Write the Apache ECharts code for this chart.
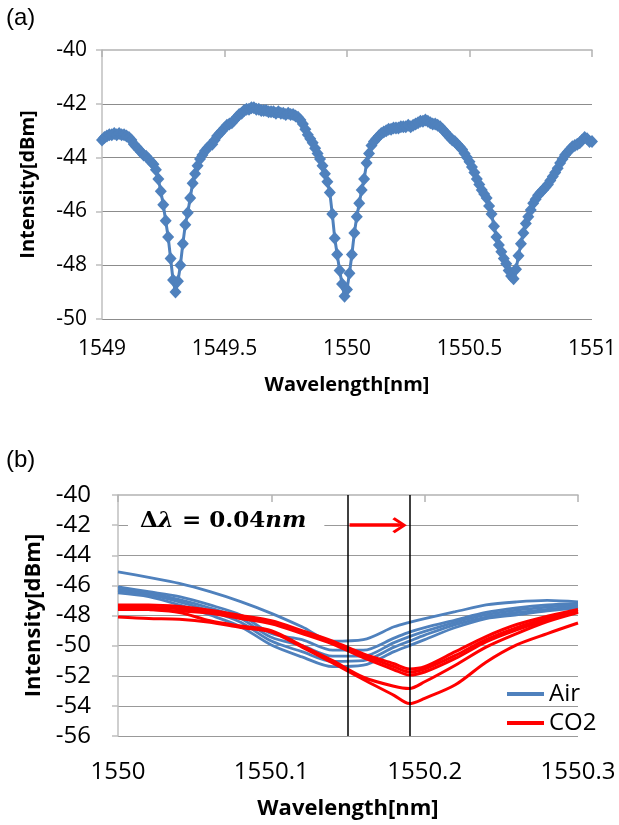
<!DOCTYPE html>
<html>
<head>
<meta charset="utf-8">
<script src="https://cdn.jsdelivr.net/npm/echarts@6/dist/echarts.min.js"></script>
<style>html,body{margin:0;padding:0;background:#fff;}#c{width:619px;height:825px;}</style>
</head>
<body>
<div id="c"></div>
<script>
// ---------- Panel (a) ----------
const aStart = 1549.0, aStep = 0.01;
const aIntensity = [
 -43.35,-43.25,-43.2,-43.15,-43.15,-43.1,-43.15,-43.1,-43.15,-43.15,
 -43.2,-43.25,-43.35,-43.5,-43.6,-43.7,-43.8,-43.9,-43.95,-44.05,
 -44.15,-44.25,-44.45,-44.8,-45.25,-45.75,-46.35,-46.95,-47.75,-48.55,
 -49.0,-48.6,-48.0,-47.2,-46.5,-46.05,-45.5,-44.95,-44.6,-44.3,
 -44.05,-43.9,-43.75,-43.65,-43.55,-43.5,-43.35,-43.2,-43.1,-43.0,
 -42.9,-42.8,-42.75,-42.7,-42.6,-42.5,-42.4,-42.35,-42.25,-42.2,
 -42.2,-42.15,-42.15,-42.2,-42.2,-42.25,-42.25,-42.25,-42.3,-42.3,
 -42.3,-42.35,-42.3,-42.35,-42.35,-42.4,-42.35,-42.4,-42.4,-42.45,
 -42.5,-42.6,-42.75,-42.95,-43.15,-43.3,-43.45,-43.65,-43.85,-44.05,
 -44.3,-44.6,-44.9,-45.3,-46.1,-47.0,-47.6,-48.2,-48.7,-49.15,
 -48.9,-48.3,-47.6,-46.8,-46.2,-45.7,-45.2,-44.8,-44.2,-43.85,
 -43.55,-43.4,-43.3,-43.2,-43.1,-43.05,-43.0,-42.95,-42.95,-42.9,
 -42.9,-42.9,-42.85,-42.85,-42.85,-42.8,-42.85,-42.8,-42.75,-42.7,
 -42.65,-42.65,-42.6,-42.65,-42.7,-42.75,-42.75,-42.8,-42.85,-42.95,
 -43.05,-43.15,-43.25,-43.35,-43.4,-43.5,-43.6,-43.7,-43.85,-44.0,
 -44.15,-44.35,-44.55,-44.8,-45.0,-45.2,-45.35,-45.5,-45.8,-46.1,
 -46.55,-46.95,-47.25,-47.5,-47.75,-47.95,-48.2,-48.4,-48.5,-48.15,
 -47.65,-47.2,-46.8,-46.45,-46.2,-45.95,-45.7,-45.55,-45.4,-45.3,
 -45.2,-45.1,-45.0,-44.85,-44.7,-44.55,-44.4,-44.2,-44.05,-43.9,
 -43.8,-43.7,-43.6,-43.55,-43.5,-43.45,-43.35,-43.25,-43.3,-43.4,
 -43.4
];
const aXTicks = [1549, 1549.5, 1550, 1550.5, 1551];
const aYTicks = [-50, -48, -46, -44, -42, -40];

// ---------- Panel (b) ----------
const bWavelength = [1550.00,1550.02,1550.04,1550.06,1550.08,1550.10,1550.12,1550.14,1550.16,1550.18,1550.19,1550.20,1550.22,1550.24,1550.26,1550.28,1550.30];
const air1 = [-45.1,-45.47,-45.87,-46.42,-47.08,-47.86,-48.75,-49.7,-49.6,-48.75,-48.45,-48.2,-47.75,-47.3,-47.1,-47.0,-47.1];
const air2 = [-46.1,-46.42,-46.75,-47.3,-47.97,-49.2,-49.6,-50.3,-50.3,-49.5,-49.1,-48.8,-48.3,-47.8,-47.5,-47.3,-47.2];
const air3 = [-46.25,-46.52,-46.95,-47.5,-48.2,-49.45,-50.0,-50.7,-50.7,-49.8,-49.4,-49.05,-48.45,-47.95,-47.65,-47.45,-47.3];
const air4 = [-46.35,-46.62,-47.1,-47.7,-48.45,-49.7,-50.4,-51.05,-51.0,-50.1,-49.7,-49.3,-48.6,-48.1,-47.8,-47.6,-47.4];
const air5 = [-46.5,-46.75,-47.3,-47.97,-48.74,-49.96,-50.75,-51.4,-51.3,-50.4,-50.0,-49.6,-48.8,-48.2,-47.95,-47.7,-47.5];
const co2_1 = [-47.3,-47.3,-47.4,-47.65,-48.0,-48.35,-49.0,-49.7,-50.55,-51.2,-51.55,-51.4,-50.4,-49.4,-48.6,-48.05,-47.6];
const co2_2 = [-47.45,-47.45,-47.55,-47.75,-48.1,-48.45,-49.1,-49.8,-50.65,-51.4,-51.75,-51.55,-50.65,-49.6,-48.8,-48.2,-47.7];
const co2_3 = [-47.6,-47.6,-47.7,-47.85,-48.2,-48.55,-49.2,-49.9,-50.8,-51.6,-51.95,-51.75,-50.85,-49.75,-48.95,-48.3,-47.75];
const co2_4 = [-47.5,-47.6,-47.8,-48.35,-48.7,-49.0,-50.0,-51.0,-52.1,-52.7,-52.85,-52.4,-51.3,-50.1,-49.2,-48.4,-47.8];
const co2_5 = [-48.1,-48.2,-48.25,-48.45,-48.8,-49.1,-50.1,-51.15,-52.25,-53.3,-53.85,-53.5,-52.6,-51.1,-49.95,-49.2,-48.5];
const airSeries = [air1, air2, air3, air4, air5];
const co2Series = [co2_1, co2_2, co2_3, co2_4, co2_5];
const shiftLines = [1550.146, 1550.188];
const arrowX = [1550.151, 1550.1835];
const arrowY = -42;
const bXTicks = [1550, 1550.1, 1550.2, 1550.3];
const bYTicks = [-56, -54, -52, -50, -48, -46, -44, -42, -40];

const BLUE = '#4F81BD', RED = '#FF0000';
const FONT = 'Open Sans';

function pairs(xs, ys){ return ys.map((y,i)=>[xs[i], y]); }
const aData = aIntensity.map((y,i)=>[+(aStart + i*aStep).toFixed(2), y]);

function fmt(v){ return String(Math.round(v*10)/10); }

const chart = echarts.init(document.getElementById('c'), null, {renderer:'canvas'});

const series = [];
series.push({
  type:'line', xAxisIndex:0, yAxisIndex:0, data:aData,
  symbol:'diamond', symbolSize:[12,13], showSymbol:true, showAllSymbol:true,
  lineStyle:{color:BLUE, width:3}, itemStyle:{color:BLUE},
  z:3, silent:true, animation:false
});
airSeries.forEach((arr, k)=>{
  const s = {
    type:'line', name:'Air', xAxisIndex:2, yAxisIndex:1, data:pairs(bWavelength, arr),
    smooth:0.3, showSymbol:false, symbol:'none',
    lineStyle:{color:BLUE, width:2.8}, itemStyle:{color:BLUE}, z:3, animation:false
  };
  if(k===0){
    s.markLine = {silent:true, symbol:'none', animation:false,
      lineStyle:{color:'#000', width:1.5, type:'solid'}, label:{show:false},
      data: shiftLines.map(v=>({xAxis:v}))};
  }
  series.push(s);
});
co2Series.forEach((arr, k)=>{
  const s = {
    type:'line', name:'CO2', xAxisIndex:2, yAxisIndex:1, data:pairs(bWavelength, arr),
    smooth:0.3, showSymbol:false, symbol:'none',
    lineStyle:{color:RED, width:3}, itemStyle:{color:RED}, z:4, animation:false
  };
  if(k===0){
    s.markLine = {silent:true, animation:false,
      symbol:['none','path://M10,0 L20,13 L17.5,15.5 L10,5.5 L2.5,15.5 L0,13 Z M8.6,2 L11.4,2 L11.4,16 L8.6,16 Z'],
      symbolSize:[16,15],
      lineStyle:{color:RED, width:3.5, type:'solid'}, label:{show:false},
      data:[[{coord:[arrowX[0], arrowY]},{coord:[arrowX[1], arrowY]}]]};
  }
  series.push(s);
});

const gridA = {left:102, top:50, width:490, height:269};
const gridB = {left:118, top:495, width:460, height:241};

chart.setOption({
  animation:false,
  backgroundColor:'#fff',
  grid:[gridA, gridB],
  legend:{
    data:['Air','CO2'], orient:'vertical', left:502, top:677,
    icon:'rect', itemWidth:37, itemHeight:4, itemGap:5,
    textStyle:{fontFamily:FONT, fontSize:24, color:'#000', lineHeight:24}
  },
  xAxis:[
    {
      type:'value', gridIndex:0, min:1549, max:1551, interval:0.5, position:'bottom',
      axisLine:{show:false}, axisTick:{show:false}, splitLine:{show:false},
      axisLabel:{fontFamily:FONT, fontSize:21, color:'#000', margin:20, formatter:fmt},
      name:'Wavelength[nm]', nameLocation:'middle', nameGap:56,
      nameTextStyle:{fontFamily:FONT, fontSize:20, fontWeight:'bold', color:'#000'}
    },
    {
      type:'value', gridIndex:0, min:1549, max:1551, interval:0.5, position:'top',
      axisLine:{show:true, lineStyle:{color:'#b3b3b3', width:1.5}},
      axisTick:{show:true, inside:true, length:7, lineStyle:{color:'#b3b3b3', width:1.5}},
      axisLabel:{show:false}, splitLine:{show:false}
    },
    {
      type:'value', gridIndex:1, min:1550, max:1550.3, interval:0.1, position:'bottom',
      axisLine:{show:false}, axisTick:{show:false}, splitLine:{show:false},
      axisLabel:{fontFamily:FONT, fontSize:24, color:'#000', margin:24, formatter:fmt},
      name:'Wavelength[nm]', nameLocation:'middle', nameGap:62,
      nameTextStyle:{fontFamily:FONT, fontSize:22, fontWeight:'bold', color:'#000'}
    },
    {
      type:'value', gridIndex:1, min:1550, max:1550.3, interval:0.1, position:'top',
      axisLine:{show:true, lineStyle:{color:'#b3b3b3', width:1.5}},
      axisTick:{show:true, inside:true, length:7, lineStyle:{color:'#b3b3b3', width:1.5}},
      axisLabel:{show:false}, splitLine:{show:false}
    }
  ],
  yAxis:[
    {
      type:'value', gridIndex:0, min:aYTicks[0], max:aYTicks[aYTicks.length-1], interval:2,
      axisLine:{show:true, lineStyle:{color:'#bfbfbf', width:1.5}},
      axisTick:{show:true, inside:false, length:6, lineStyle:{color:'#bfbfbf', width:1.5}},
      splitLine:{show:true, showMaxLine:false, lineStyle:{color:'#8c8c8c', width:1.2}},
      axisLabel:{fontFamily:FONT, fontSize:21, color:'#000', margin:15},
      name:'Intensity[dBm]', nameLocation:'middle', nameGap:64, nameRotate:90,
      nameTextStyle:{fontFamily:FONT, fontSize:20, fontWeight:'bold', color:'#000'}
    },
    {
      type:'value', gridIndex:1, min:bYTicks[0], max:bYTicks[bYTicks.length-1], interval:2,
      axisLine:{show:true, lineStyle:{color:'#bfbfbf', width:1.5}},
      axisTick:{show:true, inside:false, length:6, lineStyle:{color:'#bfbfbf', width:1.5}},
      splitLine:{show:true, showMaxLine:false, lineStyle:{color:'#999999', width:1.2}},
      axisLabel:{fontFamily:FONT, fontSize:24, color:'#000', margin:27},
      name:'Intensity[dBm]', nameLocation:'middle', nameGap:71, nameRotate:90,
      nameTextStyle:{fontFamily:FONT, fontSize:22, fontWeight:'bold', color:'#000'}
    }
  ],
  graphic:[
    {type:'text', left:6, top:6, z:10, style:{text:'(a)', font:'24px "Liberation Sans"', fill:'#000'}},
    {type:'text', left:6, top:448, z:10, style:{text:'(b)', font:'24px "Liberation Sans"', fill:'#000'}},
    {type:'text', left:128, top:506, z:1, style:{
      text:'{d|Δ}{l|λ}{e| = 0.04}{l|nm}',
      backgroundColor:'#fff', padding:[4,18,4,12],
      rich:{
        d:{fontFamily:'DejaVu Serif', fontSize:23, fontWeight:'bold', fill:'#000'},
        l:{fontFamily:'DejaVu Serif', fontSize:23, fontWeight:'bold', fontStyle:'italic', fill:'#000'},
        e:{fontFamily:'DejaVu Serif', fontSize:23, fontWeight:'bold', fill:'#000'}
      }
    }}
  ],
  series: series
});
</script>
</body>
</html>
